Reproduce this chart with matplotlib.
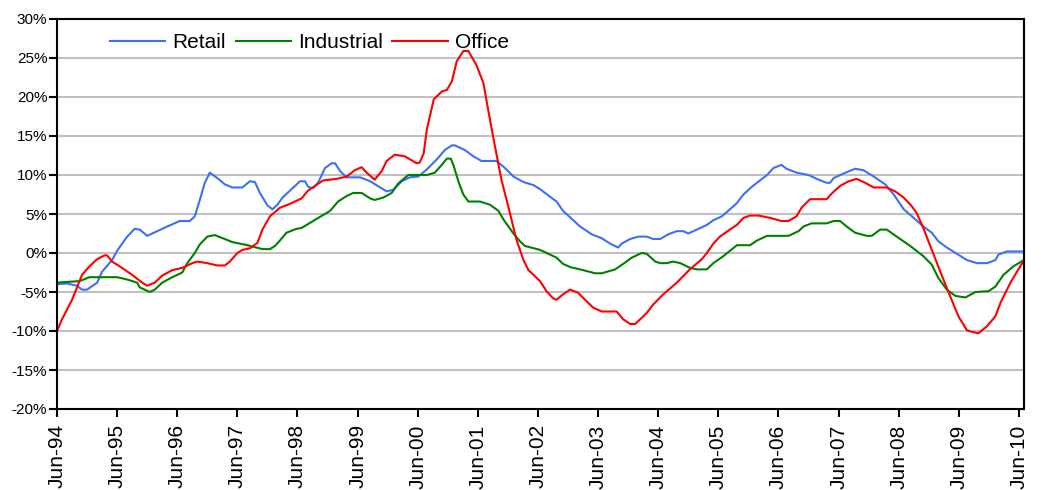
import matplotlib
matplotlib.use("Agg")
import matplotlib.pyplot as plt

plt.rcParams['font.family'] = ['Liberation Sans', 'DejaVu Sans']

# months since Jun-94, annual % change
retail_m = [0, 2, 4, 5, 6, 8, 9, 11, 12, 14, 15.5, 16.5, 18, 20, 22, 24.5, 26.5, 27.5, 28.5, 29.5,
            30.5, 32, 33.5, 35, 37, 38.5, 39.5, 40.5, 42, 43, 44, 45, 46.5, 48.5, 49.5, 50.1, 51.1,
            52.1, 53.5, 54.8, 55.5, 56.5, 57.8, 60.5, 62.5, 64.5, 65.8, 67.1, 68.8, 70.4, 72.1, 73.8,
            75.8, 77.4, 78.8, 79.4, 81.4, 83.1, 84.7, 87.7, 89.4, 91.1, 93.1, 95.1, 96.4, 98.0, 99.7,
            101.0, 102.7, 104.4, 106.7, 108.7, 110.4, 112.0, 112.7, 114.4, 116.0, 117.7, 119.0, 120.4,
            122.0, 123.7, 125.0, 126.0, 127.7, 129.7, 131.0, 132.7, 134.3, 135.7, 137.0, 138.7, 140.3,
            141.7, 143.0, 144.6, 145.6, 147.6, 150.0, 152.0, 153.6, 154.3, 155.0, 157.0, 159.3, 161.0,
            163.0, 165.3, 167.0, 169.0, 171.0, 172.9, 174.6, 175.9, 177.6, 179.6, 181.6, 183.6, 185.6,
            187.3, 187.9, 189.6, 193]
retail_v = [-4.0, -3.9, -4.2, -4.7, -4.7, -3.8, -2.4, -0.9, 0.3, 2.1, 3.1, 3.0, 2.2, 2.8, 3.4, 4.1, 4.1,
            4.7, 6.8, 9.0, 10.3, 9.6, 8.8, 8.4, 8.4, 9.2, 9.1, 7.7, 6.1, 5.6, 6.2, 7.1, 8.0, 9.2, 9.2,
            8.5, 8.3, 9.0, 10.9, 11.5, 11.5, 10.5, 9.7, 9.7, 9.2, 8.4, 7.9, 8.1, 9.2, 9.7, 9.8, 10.7,
            12.0, 13.2, 13.8, 13.8, 13.2, 12.4, 11.8, 11.8, 10.9, 9.8, 9.1, 8.7, 8.2, 7.4, 6.6, 5.4,
            4.4, 3.4, 2.4, 1.9, 1.2, 0.7, 1.2, 1.8, 2.1, 2.1, 1.8, 1.8, 2.4, 2.8, 2.8, 2.5, 3.0, 3.6,
            4.2, 4.7, 5.6, 6.4, 7.5, 8.5, 9.3, 10.0, 10.9, 11.3, 10.8, 10.3, 10.0, 9.4, 9.0, 9.0, 9.6,
            10.2, 10.8, 10.6, 9.8, 8.8, 7.5, 5.6, 4.5, 3.4, 2.6, 1.5, 0.7, -0.1, -0.9, -1.3, -1.3,
            -0.9, -0.2, 0.2, 0.2]

industrial_m = [0, 4.5, 6.5, 12, 14, 16, 16.5, 18.5, 19.5, 21, 23, 25, 26, 27.5, 28.5, 30, 31.5, 35,
                38, 41, 42.5, 43.5, 44.5, 45.8, 47.8, 48.8, 51.1, 54.5, 56.1, 57.8, 59.1, 60.8, 62.5,
                63.4, 65.1, 66.8, 68.1, 70.1, 73.8, 75.4, 76.8, 77.8, 78.6, 79.1, 80.1, 81.1, 82.1,
                84.4, 86.4, 88.1, 89.1, 91.1, 92.4, 93.4, 96.4, 98.4, 99.7, 101.0, 102.4, 105.0, 107.4,
                108.7, 111.4, 113.0, 114.7, 116.7, 117.7, 119.4, 120.4, 121.7, 123.0, 124.4, 126.3,
                127.7, 129.7, 131.0, 133.0, 135.7, 138.3, 139.7, 141.7, 146.0, 148.0, 149.0, 150.6,
                153.6, 155.0, 156.3, 157.6, 159.3, 161.6, 162.6, 164.3, 165.6, 167.6, 170.3, 172.9,
                174.6, 175.9, 177.6, 179.3, 181.3, 183.3, 185.9, 187.3, 188.9, 190.9, 193]
industrial_v = [-3.8, -3.6, -3.1, -3.1, -3.4, -3.8, -4.4, -5.0, -4.7, -3.8, -3.1, -2.5, -1.3, 0.0,
                1.1, 2.1, 2.3, 1.4, 1.0, 0.5, 0.5, 0.9, 1.6, 2.6, 3.1, 3.2, 4.1, 5.4, 6.6, 7.3, 7.7,
                7.7, 7.0, 6.8, 7.1, 7.7, 8.9, 10.0, 10.0, 10.3, 11.3, 12.1, 12.1, 11.3, 9.2, 7.5, 6.6,
                6.6, 6.2, 5.4, 4.3, 2.5, 1.5, 0.9, 0.4, -0.2, -0.6, -1.4, -1.8, -2.2, -2.6, -2.6, -2.1,
                -1.4, -0.6, 0.0, -0.1, -1.1, -1.3, -1.3, -1.1, -1.3, -1.9, -2.1, -2.1, -1.3, -0.4, 1.0,
                1.0, 1.6, 2.2, 2.2, 2.8, 3.4, 3.8, 3.8, 4.1, 4.1, 3.4, 2.6, 2.2, 2.2, 3.0, 3.0, 2.1,
                0.9, -0.4, -1.5, -3.2, -4.7, -5.5, -5.7, -5.0, -4.9, -4.3, -2.8, -1.7, -0.9]

office_m = [0, 1, 3, 5, 6.5, 8, 9.5, 10, 11, 12.5, 15, 17, 18, 19.5, 21, 23, 25, 27, 28, 30, 32, 33.5,
            34.5, 36, 37, 38.5, 40, 41, 42.5, 44.5, 46.5, 48.8, 50.1, 53.1, 55.8, 57.8, 59.4, 60.8,
            61.8, 63.4, 64.8, 65.8, 67.4, 69.4, 71.8, 72.4, 73.2, 73.8, 75.2, 76.8, 77.8, 78.8, 79.8,
            81.1, 82.1, 83.7, 85.1, 86.1, 87.4, 88.7, 90.4, 91.7, 93.1, 94.1, 95.1, 96.4, 97.7, 99.0,
            99.7, 101.0, 102.4, 104.0, 105.4, 107.0, 108.7, 111.7, 113.0, 114.4, 115.4, 117.7, 119.0,
            121.0, 123.7, 126.3, 128.7, 129.7, 131.0, 132.3, 134.3, 135.7, 137.0, 138.3, 140.0, 142.3,
            144.6, 146.0, 147.6, 148.6, 150.3, 153.6, 154.6, 156.3, 158.0, 159.6, 161.3, 163.0, 165.6,
            167.3, 169.0, 170.6, 171.6, 172.9, 174.6, 176.3, 178.3, 179.9, 181.6, 182.6, 183.9, 185.6,
            187.3, 188.3, 190.3, 193]
office_v = [-10.0, -8.5, -6.0, -2.8, -1.7, -0.8, -0.3, -0.3, -1.1, -1.7, -2.8, -3.8, -4.2, -3.8, -2.9,
            -2.2, -1.9, -1.3, -1.1, -1.3, -1.6, -1.6, -1.1, 0.0, 0.4, 0.6, 1.3, 3.0, 4.7, 5.8, 6.3, 7.0,
            8.0, 9.3, 9.5, 9.8, 10.6, 11.0, 10.3, 9.4, 10.5, 11.8, 12.6, 12.4, 11.5, 11.6, 12.8, 15.8,
            19.7, 20.7, 20.9, 22.0, 24.6, 25.9, 25.9, 24.1, 21.8, 18.2, 13.7, 9.4, 5.1, 1.7, -0.9,
            -2.2, -2.8, -3.6, -4.9, -5.8, -6.0, -5.3, -4.7, -5.1, -6.0, -7.0, -7.5, -7.5, -8.5, -9.1,
            -9.1, -7.7, -6.6, -5.3, -3.8, -2.1, -0.8, 0.0, 1.2, 2.1, 3.0, 3.6, 4.5, 4.8, 4.8, 4.5, 4.1,
            4.1, 4.7, 5.8, 6.9, 6.9, 7.6, 8.6, 9.2, 9.5, 9.0, 8.4, 8.4, 7.9, 7.1, 6.0, 5.1, 3.2, 0.4,
            -2.4, -5.6, -8.1, -9.9, -10.1, -10.3, -9.4, -8.1, -6.4, -3.8, -0.9]

tick_labels = ["Jun-%02d" % (y % 100) for y in range(94, 111)]
y_ticks = list(range(-20, 31, 5))

fig = plt.figure(figsize=(10.42, 4.9), dpi=100)
ax = fig.add_axes([57 / 1042, 81 / 490, 967 / 1042, 390 / 490])

ax.plot(retail_m, retail_v, color="#3f6ff5", lw=1.5, label="Retail")
ax.plot(industrial_m, industrial_v, color="#008000", lw=1.5, label="Industrial")
ax.plot(office_m, office_v, color="#ff0000", lw=1.5, label="Office")

ax.set_xlim(0, 193)
ax.set_ylim(-20, 30)
ax.set_yticks(y_ticks)
ax.set_yticklabels([f"{v}%" for v in y_ticks], fontsize=11)
ax.set_xticks(range(0, 193, 12))
ax.set_xticklabels(tick_labels, rotation=90, fontsize=15, va="top", ha="center")
ax.tick_params(axis="y", length=6, width=1.5, pad=1)
ax.tick_params(axis="x", length=6, width=1.5, pad=5)

ax.grid(axis="y", color="#c0c0c0", lw=1.5)
ax.set_axisbelow(True)
for s in ax.spines.values():
    s.set_linewidth(1.5)
    s.set_color("black")

ax.legend(loc="center left", bbox_to_anchor=(0.055, 0.939), ncol=3, frameon=False,
          fontsize=15, handlelength=2.65, handletextpad=0.35, columnspacing=0.45,
          borderpad=0, borderaxespad=0)

fig.savefig("out.png", dpi=100)
